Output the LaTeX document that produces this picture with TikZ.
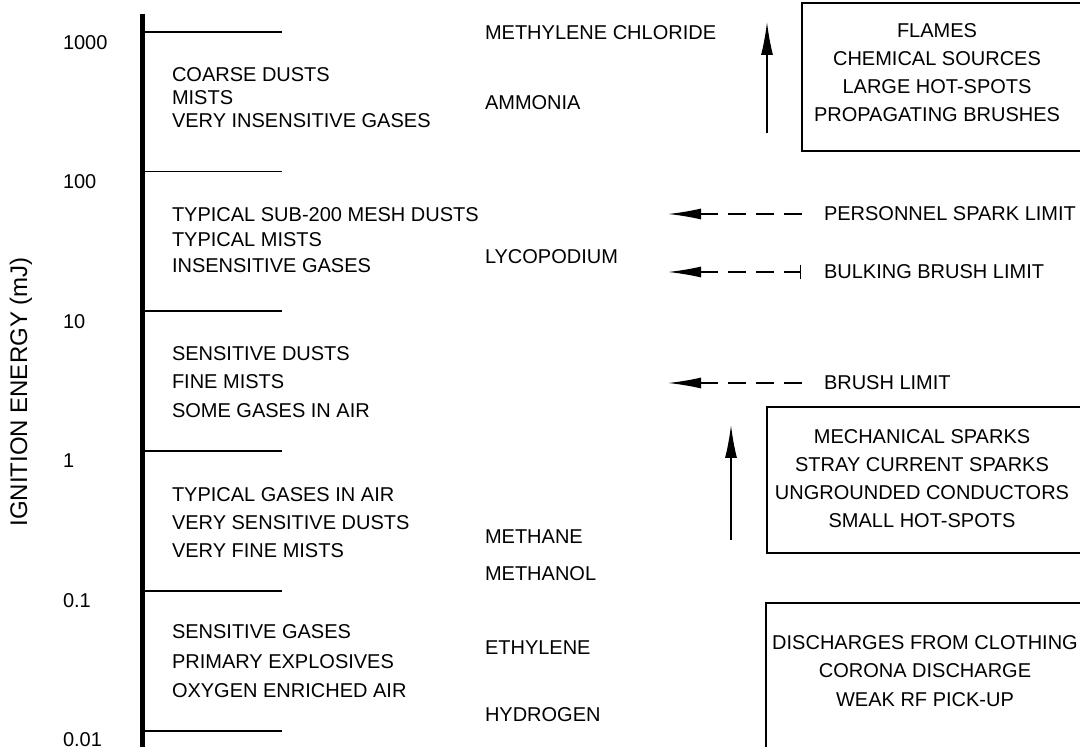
\documentclass[tikz,border=0pt]{standalone}
\usepackage{fontspec}
\setmainfont{Liberation Sans}
\usetikzlibrary{arrows.meta}
\begin{document}
\begin{tikzpicture}[x=0.5pt,y=-0.5pt,
  every node/.style={inner sep=0pt,outer sep=0pt,font=\fontsize{10}{12}\selectfont},
  lbl/.style={anchor=west,align=left},
  ctr/.style={align=center},
  tk/.style={line width=0.75pt},
  box/.style={draw,line width=1pt},
  up/.style={line width=0.75pt,-{Latex[length=16.5pt,width=6pt]}},
  dsh/.style={line width=0.75pt,dash pattern=on 9pt off 5pt,{Latex[length=16.5pt,width=5.5pt]}-}]
\useasboundingbox (0,0) rectangle (1080,747);
% axis
\draw[line width=2.2pt] (142.5,14) -- (142.5,760);
\foreach \yy in {32,171.5,311,451,591,731}{\draw[tk] (143,\yy) -- (282,\yy);}
% values
\node[anchor=west] (v1000) at (63,42.5) {1000};
\node[anchor=west] (v100) at (63,182) {100};
\node[anchor=west] (v10) at (63,321.5) {10};
\node[anchor=west] (v1) at (63,461) {1};
\node[anchor=west] (v01) at (63,600.5) {0.1};
\node[anchor=west] (v001) at (63,740) {0.01};
\node[rotate=90,font=\fontsize{12}{14}\selectfont] (ylab) at (21,392) {IGNITION ENERGY (mJ)};
% left groups
\node[lbl,font=\fontsize{10}{11.5}\selectfont] (g1) at (172,97.5) {COARSE DUSTS\\MISTS\\VERY INSENSITIVE GASES};
\node[lbl,font=\fontsize{10}{12.9}\selectfont] (g2) at (172,240) {TYPICAL SUB-200 MESH DUSTS\\TYPICAL MISTS\\INSENSITIVE GASES};
\node[lbl,font=\fontsize{10}{14.1}\selectfont] (g3) at (172,382) {SENSITIVE DUSTS\\FINE MISTS\\SOME GASES IN AIR};
\node[lbl,font=\fontsize{10}{14}\selectfont] (g4) at (172,523) {TYPICAL GASES IN AIR\\VERY SENSITIVE DUSTS\\VERY FINE MISTS};
\node[lbl,font=\fontsize{10}{14.75}\selectfont] (g5) at (172,661.5) {SENSITIVE GASES\\PRIMARY EXPLOSIVES\\OXYGEN ENRICHED AIR};
% middle column
\node[anchor=west] (mc) at (485,33) {METHYLENE CHLORIDE};
\node[anchor=west] (am) at (485,102.5) {AMMONIA};
\node[anchor=west] (ly) at (485,257) {LYCOPODIUM};
\node[anchor=west] (me) at (485,537) {METHANE};
\node[anchor=west] (mo) at (485,574) {METHANOL};
\node[anchor=west] (et) at (485,648) {ETHYLENE};
\node[anchor=west] (hy) at (485,715) {HYDROGEN};
% box 1
\draw[box] (802,3) rectangle (1095,151);
\node[ctr,font=\fontsize{10}{14}\selectfont] (b1) at (937,73) {FLAMES\\CHEMICAL SOURCES\\LARGE HOT-SPOTS\\PROPAGATING BRUSHES};
\coordinate (a1s) at (767,133); \coordinate (a1e) at (767,22);
\draw[up] (a1s) -- (a1e);
% limits
\node[anchor=west] (pl) at (824,214) {PERSONNEL SPARK LIMIT};
\node[anchor=west] (bl) at (824,272) {BULKING BRUSH LIMIT};
\node[anchor=west] (br) at (824,383) {BRUSH LIMIT};
\coordinate (p1) at (802,214); \coordinate (p2) at (668,214);
\coordinate (q1) at (801,272); \coordinate (q2) at (668,272);
\coordinate (r1) at (802,383); \coordinate (r2) at (668,383);
\draw[dsh] (p2) -- (p1);
\draw[dsh,{Latex[length=16.5pt,width=5.5pt]}-{Bar[width=7pt]}] (q2) -- (q1);
\draw[dsh] (r2) -- (r1);
% box 2
\draw[box] (767,407) rectangle (1095,553);
\node[ctr,font=\fontsize{10}{14}\selectfont] (b2) at (922,479) {MECHANICAL SPARKS\\STRAY CURRENT SPARKS\\UNGROUNDED CONDUCTORS\\SMALL HOT-SPOTS};
\coordinate (a2s) at (731,540); \coordinate (a2e) at (731,425);
\draw[up] (a2s) -- (a2e);
% box 3
\draw[box] (766,603) rectangle (1095,770);
\node[ctr,font=\fontsize{10}{14.25}\selectfont] (b3) at (925,671) {DISCHARGES FROM CLOTHING\\CORONA DISCHARGE\\WEAK RF PICK-UP};
\end{tikzpicture}
\end{document}
